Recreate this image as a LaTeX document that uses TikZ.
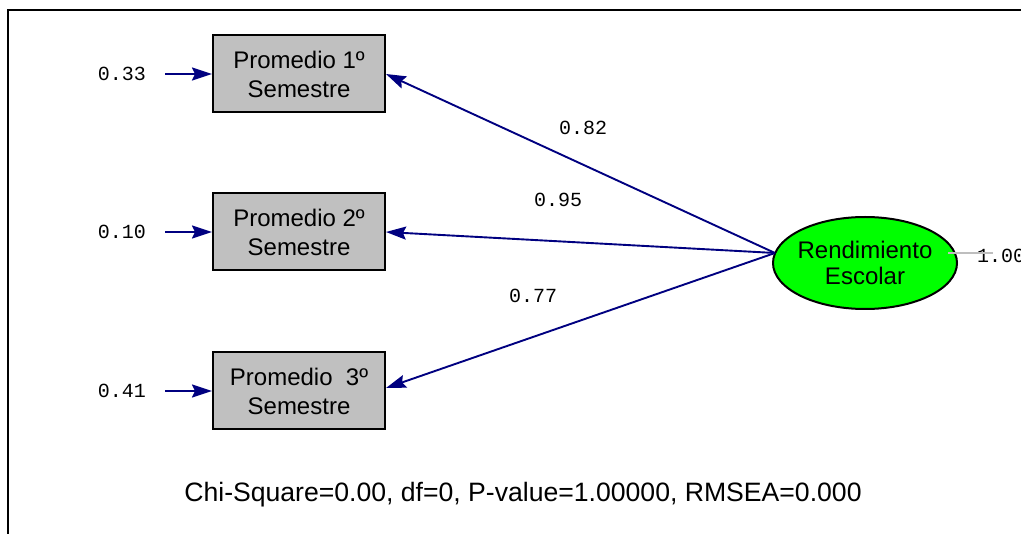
\documentclass[tikz,border=0pt]{standalone}
\usepackage{fontspec}
\setmainfont{Liberation Sans}
\newfontfamily\coeffont{Liberation Mono}
\usepackage{tikz}
\usetikzlibrary{positioning,shapes.geometric,arrows.meta}
\definecolor{pathblue}{RGB}{0,0,128}
\definecolor{boxgray}{RGB}{192,192,192}
\definecolor{latgreen}{RGB}{0,255,0}
\definecolor{errgray}{RGB}{190,190,190}

\begin{document}
\begin{tikzpicture}[x=1pt, y=-1pt,
  obs/.style={draw, line width=2pt, fill=boxgray, minimum width=172pt, minimum height=77pt, inner sep=0pt, align=center, font=\fontsize{24}{29}\selectfont},
  lat/.style={ellipse, draw, line width=2pt, fill=latgreen, minimum width=184pt, minimum height=92pt, inner xsep=-3pt, inner ysep=0pt, align=center, font=\fontsize{24}{26}\selectfont},
  coef/.style={inner sep=0pt, font=\coeffont\fontsize{20}{24}\selectfont},
  loading/.style={draw=pathblue, line width=1.9pt, -{Stealth[length=20pt,width=13pt,inset=3pt]}},
  errarrow/.style={loading}]
\useasboundingbox (0,0) rectangle (1021,534);
\draw[line width=1.4pt] (8,534) -- (8,10) -- (1021,10);

\node[obs] (prom1) at (299,74) {Promedio 1º\\Semestre};
\node[obs] (prom2) at (299,232) {Promedio 2º\\Semestre};
\node[obs] (prom3) at (299,391) {Promedio~~3º\\Semestre};
\node[lat] (rend) at (865,263) {Rendimiento\\Escolar};

% error variances
\node[coef] (err1) at (122,74) {0.33};
\node[coef] (err2) at (122,232) {0.10};
\node[coef] (err3) at (122,391) {0.41};
\coordinate (e1) at (165,74);
\coordinate (e2) at (165,232);
\coordinate (e3) at (165,391);
\draw[errarrow] (e1) -- (e1 -| prom1.west);
\draw[errarrow] (e2) -- (e2 -| prom2.west);
\draw[errarrow] (e3) -- (e3 -| prom3.west);

% loadings
\coordinate (lv) at (775,253);
\draw[loading] (lv) -- (prom1.east);
\draw[loading] (lv) -- (prom2.east);
\draw[loading] (lv) -- ([yshift=3pt]prom3.east);
\node[coef] (l1) at (583,128) {0.82};
\node[coef] (l2) at (558,200) {0.95};
\node[coef] (l3) at (533,296) {0.77};

% latent variance
\node[coef, anchor=west] (var) at (977,256) {1.00};
\coordinate (v1) at (948,253);
\coordinate (v2) at (993,253);
\draw[errgray, line width=1.8pt] (v1) -- (v2);

\node[anchor=base, inner sep=0pt, font=\fontsize{26.6}{30}\selectfont] (fit) at (523,502) {Chi-Square=0.00, df=0, P-value=1.00000, RMSEA=0.000};
\end{tikzpicture}
\end{document}
